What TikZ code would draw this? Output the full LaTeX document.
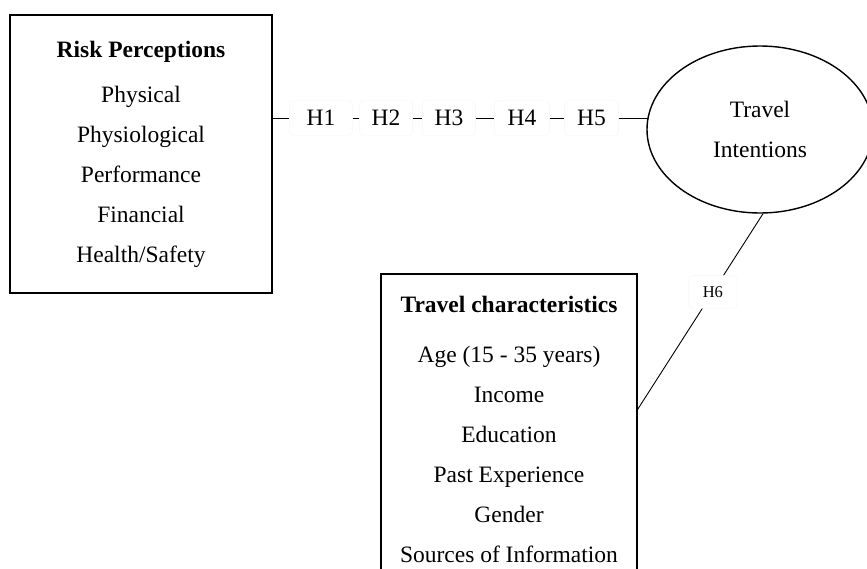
\documentclass[tikz,border=0pt]{standalone}
\usepackage{fontspec}
\setmainfont{Liberation Serif}
\usetikzlibrary{shapes.geometric,calc}
\begin{document}
\begin{tikzpicture}[x=1pt,y=-1pt,
  every node/.style={font=\fontsize{23.5}{40}\selectfont},
  boxnode/.style={draw, line width=1.4pt, rectangle, align=center, inner sep=0pt},
  hlabel/.style={fill=white, draw=black!4, line width=0.4pt, rounded corners=4pt, inner ysep=10pt},
  link/.style={line width=0.9pt}]
\useasboundingbox (0,0) rectangle (867,568);
% Risk perceptions box
\node[boxnode, minimum width=262pt, minimum height=278pt] (risk) at (141,154)
  {\textbf{Risk Perceptions}\\[5pt] Physical\\ Physiological\\ Performance\\ Financial\\ Health/Safety};
% Travel intentions ellipse
\node[draw, ellipse, line width=1.4pt, minimum width=226pt, minimum height=167pt, align=center, inner sep=0pt] (ti) at (760,129.5)
  {\fontsize{23.5}{38}\selectfont Travel\\ Intentions};
% Travel characteristics box
\node[draw, line width=1.4pt, rectangle, minimum width=256pt, minimum height=330pt, inner sep=0pt] (tcbox) at (509,439) {};
\node[align=center, inner sep=0pt] (tctext) at (509,429)
  {\textbf{Travel characteristics}\\[10pt] Age (15 - 35 years)\\ Income\\ Education\\ Past Experience\\ Gender\\ Sources of Information};
% Hypothesis labels
\node[hlabel, inner xsep=17pt] (h1) at (321,118) {H1};
\node[hlabel, inner xsep=12pt] (h2) at (386,118) {H2};
\node[hlabel, inner xsep=12pt] (h3) at (449,118) {H3};
\node[hlabel, inner xsep=13pt] (h4) at (522,118) {H4};
\node[hlabel, inner xsep=12.5pt] (h5) at (591.5,118) {H5};
\coordinate (tiw) at (648,118);
\draw[link] (risk.east |- h1) -- (h1);
\draw[link] (h1) -- (h2);
\draw[link] (h2) -- (h3);
\draw[link] (h3) -- (h4);
\draw[link] (h4) -- (h5);
\draw[link] (h5) -- (tiw);
% H6
\coordinate (tcin) at ($(tcbox.north east)+(0,136)$);
\coordinate (tis) at ($(ti.south)+(3,0)$);
\draw[link] (tis) -- (tcin)
  node[pos=0.4, fill=white, draw=black!4, line width=0.4pt, rounded corners=4pt, inner xsep=14pt, inner ysep=11pt, font=\fontsize{16.5}{18}\selectfont] (h6) {H6};
\end{tikzpicture}
\end{document}
